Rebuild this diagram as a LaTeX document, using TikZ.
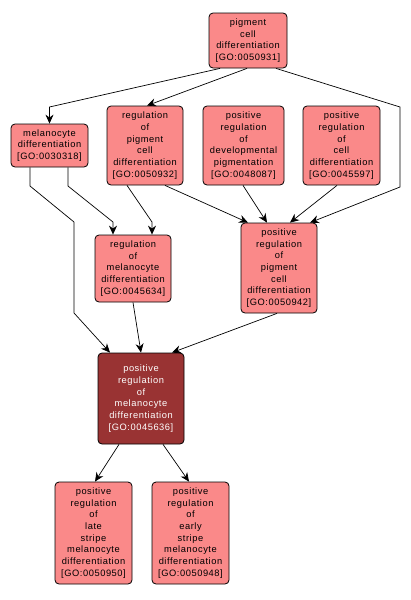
\documentclass[tikz,border=0pt]{standalone}
\usepackage{fontspec}
\newfontfamily\nodefont[LetterSpace=6]{Liberation Sans}
\usetikzlibrary{arrows.meta}
\definecolor{gofill}{RGB}{250,137,137}
\definecolor{gomain}{RGB}{153,51,51}
\begin{document}
\begin{tikzpicture}[x=1pt,y=-1pt,
  gonode/.style={draw=black, line width=0.8pt, rounded corners=4pt, fill=gofill, inner sep=0pt,
    align=center, text=black, font=\nodefont\fontsize{9.3}{11.7}\selectfont},
  gomainnode/.style={gonode, fill=gomain, text=white},
  edge/.style={draw=black, line width=0.7pt, -{Stealth[length=9pt,width=8pt,inset=3pt]}}]
\useasboundingbox (0,0) rectangle (410,600);
\fill[white] (0,0) rectangle (410,600);

\node[gonode, minimum width=78pt, minimum height=55pt] (n1) at (248,40.5) {pigment\\cell\\differentiation\\{[}GO:0050931{]}};
\node[gonode, minimum width=77pt, minimum height=43pt] (n2) at (49.5,145.5) {melanocyte\\differentiation\\{[}GO:0030318{]}};
\node[gonode, minimum width=76pt, minimum height=79pt] (n3) at (145,145.5) {regulation\\of\\pigment\\cell\\differentiation\\{[}GO:0050932{]}};
\node[gonode, minimum width=81pt, minimum height=79pt] (n4) at (243.5,145.5) {positive\\regulation\\of\\developmental\\pigmentation\\{[}GO:0048087{]}};
\node[gonode, minimum width=77pt, minimum height=79pt] (n5) at (341.5,145.5) {positive\\regulation\\of\\cell\\differentiation\\{[}GO:0045597{]}};
\node[gonode, minimum width=76pt, minimum height=67pt] (n6) at (133,268.5) {regulation\\of\\melanocyte\\differentiation\\{[}GO:0045634{]}};
\node[gonode, minimum width=76pt, minimum height=90pt] (n7) at (279,268) {positive\\regulation\\of\\pigment\\cell\\differentiation\\{[}GO:0050942{]}};
\node[gomainnode, minimum width=86pt, minimum height=91pt] (n8) at (141,398.5) {positive\\regulation\\of\\melanocyte\\differentiation\\{[}GO:0045636{]}};
\node[gonode, minimum width=77pt, minimum height=102pt] (n9) at (93.5,533) {positive\\regulation\\of\\late\\stripe\\melanocyte\\differentiation\\{[}GO:0050950{]}};
\node[gonode, minimum width=77pt, minimum height=102pt] (n10) at (190.5,533) {positive\\regulation\\of\\early\\stripe\\melanocyte\\differentiation\\{[}GO:0050948{]}};

\coordinate (b12) at (49.5,107);
\coordinate (b17a) at (400,107);
\coordinate (b17b) at (400,187);
\coordinate (b26a) at (68,186);
\coordinate (b26b) at (113,222);
\coordinate (b28a) at (30,186);
\coordinate (b28b) at (74,222);
\coordinate (b28c) at (74,313);
\coordinate (b36) at (152,222);

\draw[edge] ([xshift=-28pt]n1.south) -- (b12) -- (n2.north);
\draw[edge] ([xshift=-1pt]n1.south) -- ([xshift=2pt]n3.north);
\draw[edge] ([xshift=28pt]n1.south) -- (b17a) -- (b17b) -- ([xshift=31pt]n7.north);
\draw[edge] ([xshift=18.5pt]n2.south) -- (b26a) -- (b26b) -- ([xshift=-20pt]n6.north);
\draw[edge] ([xshift=-19.5pt]n2.south) -- (b28a) -- (b28b) -- (b28c) -- ([xshift=-31pt]n8.north);
\draw[edge] ([xshift=-18pt]n3.south) -- (b36) -- ([xshift=19pt]n6.north);
\draw[edge] ([xshift=20pt]n3.south) -- ([xshift=-31pt]n7.north);
\draw[edge] ([xshift=-0.5pt]n4.south) -- ([xshift=-12pt]n7.north);
\draw[edge] ([xshift=-4.5pt]n5.south) -- ([xshift=11pt]n7.north);
\draw[edge] (n6.south) -- (n8.north);
\draw[edge] ([xshift=-2pt]n7.south) -- ([xshift=31pt]n8.north);
\draw[edge] ([xshift=-22pt]n8.south) -- ([xshift=1.5pt]n9.north);
\draw[edge] ([xshift=22pt]n8.south) -- ([xshift=-1.5pt]n10.north);
\end{tikzpicture}
\end{document}
